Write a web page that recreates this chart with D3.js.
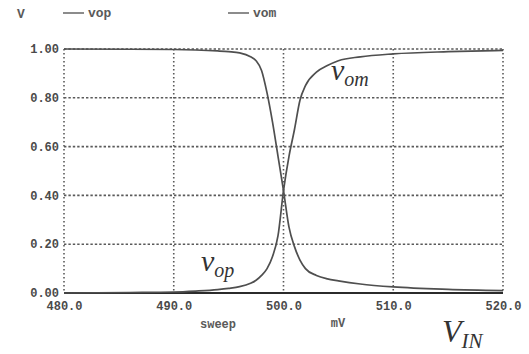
<!DOCTYPE html>
<html>
<head>
<meta charset="utf-8">
<script src="https://cdn.jsdelivr.net/npm/d3@7"></script>
<style>
  body { margin: 0; background: #fff; }
  svg { display: block; }
</style>
</head>
<body>
<svg id="chart" width="529" height="354"></svg>
<script>
// DC sweep of the input voltage (mV) and the two differential outputs (V)
const sweepMV = [480, 486, 490, 492, 494, 495, 496, 497, 497.5, 498, 498.5, 499, 499.5, 500, 500.5, 501, 501.5, 502, 503, 504, 505, 507, 510, 515, 520];
const vop =     [0.000, 0.002, 0.004, 0.008, 0.014, 0.019, 0.026, 0.040, 0.052, 0.072, 0.100, 0.150, 0.235, 0.420, 0.560, 0.670, 0.790, 0.850, 0.905, 0.932, 0.952, 0.968, 0.980, 0.989, 0.994];
const vom =     [1.000, 0.999, 0.998, 0.996, 0.992, 0.989, 0.984, 0.968, 0.952, 0.912, 0.820, 0.700, 0.560, 0.420, 0.270, 0.190, 0.135, 0.100, 0.072, 0.058, 0.050, 0.037, 0.025, 0.015, 0.010];
const seriesNames = ["vop", "vom"];
const xTicks = [480, 490, 500, 510, 520];
const yTicks = [0, 0.2, 0.4, 0.6, 0.8, 1.0];

const svg = d3.select("#chart");
const W = 529, H = 354;
svg.append("rect").attr("width", W).attr("height", H).attr("fill", "#fff");

const x = d3.scaleLinear().domain([480, 520]).range([64, 503]);
const y = d3.scaleLinear().domain([0, 1]).range([293, 49]);

const gridColor = "#5a5a5a";
const textColor = "#4a4a4a";
const mono = "'Liberation Mono', 'DejaVu Sans Mono', monospace";

// dotted grid: verticals at each x tick, horizontals at each y tick above zero
const grid = svg.append("g");
grid.selectAll("line.v").data(xTicks).join("line")
  .attr("x1", d => x(d)).attr("x2", d => x(d))
  .attr("y1", y(1)).attr("y2", y(0))
  .attr("stroke", gridColor).attr("stroke-width", 1.6)
  .attr("stroke-dasharray", "1.6,2.4");
grid.selectAll("line.h").data(yTicks.filter(d => d > 0)).join("line")
  .attr("x1", x(480)).attr("x2", x(520))
  .attr("y1", d => y(d)).attr("y2", d => y(d))
  .attr("stroke", gridColor).attr("stroke-width", 1.6)
  .attr("stroke-dasharray", "2.4,2");

// solid baseline at 0 V
svg.append("line")
  .attr("x1", x(480)).attr("x2", x(520))
  .attr("y1", y(0)).attr("y2", y(0))
  .attr("stroke", "#2b2b2b").attr("stroke-width", 2.2);

// axes text via d3 axes, with the axis lines themselves hidden
const yAxis = svg.append("g").attr("transform", `translate(${x(480) - 2},0)`)
  .call(d3.axisLeft(y).tickValues(yTicks).tickFormat(d3.format(".2f")).tickSize(0).tickPadding(3));
const xAxis = svg.append("g").attr("transform", `translate(0,${y(0)})`)
  .call(d3.axisBottom(x).tickValues(xTicks).tickFormat(d3.format(".1f")).tickSize(0).tickPadding(6));
[yAxis, xAxis].forEach(a => {
  a.select(".domain").remove();
  a.selectAll("text").attr("fill", textColor)
    .style("font-family", mono).style("font-size", "12px").style("font-weight", "bold");
});
yAxis.selectAll("text").attr("dy", "0.3em");
xAxis.selectAll("text").attr("dy", "0.95em");

// curves
const line = d3.line().x(d => x(d[0])).y(d => y(d[1])).curve(d3.curveMonotoneX);
const series = [vop, vom].map(vals => sweepMV.map((v, i) => [v, vals[i]]));
svg.append("g").selectAll("path").data(series).join("path")
  .attr("d", line).attr("fill", "none")
  .attr("stroke", "#4f4f4f").attr("stroke-width", 1.7);

// legend row
const legend = svg.append("g").style("font-family", mono).style("font-size", "13px")
  .style("font-weight", "bold").attr("fill", "#5a5a5a");
legend.append("text").attr("x", 17).attr("y", 18).text("V");
const legendX = [63, 228];
seriesNames.forEach((name, i) => {
  legend.append("line")
    .attr("x1", legendX[i]).attr("x2", legendX[i] + 21)
    .attr("y1", 13).attr("y2", 13)
    .attr("stroke", "#666").attr("stroke-width", 1.5);
  legend.append("text").attr("x", legendX[i] + 25).attr("y", 17).text(name);
});

// x-axis caption
svg.append("text").attr("x", 218).attr("y", 328).attr("text-anchor", "middle")
  .attr("fill", "#5a5a5a").style("font-family", mono).style("font-size", "12px")
  .style("font-weight", "bold").text("sweep");
svg.append("text").attr("x", 338).attr("y", 327).attr("text-anchor", "middle")
  .attr("fill", "#5a5a5a").style("font-family", mono).style("font-size", "12px")
  .style("font-weight", "bold").text("mV");

// italic serif annotations
const serif = "'Liberation Serif', 'DejaVu Serif', serif";
function label(xp, yp, main, sub, mainSize, subSize, subDy) {
  const t = svg.append("text").attr("x", xp).attr("y", yp)
    .attr("fill", "#333").style("font-family", serif).style("font-style", "italic");
  t.append("tspan").style("font-size", mainSize + "px").text(main);
  t.append("tspan").style("font-size", subSize + "px").attr("dy", subDy).text(sub);
}
label(331, 80, "v", "om", 30, 20, 6);
label(201, 271, "v", "op", 30, 20, 6);
label(442, 342, "V", "IN", 32, 21, 6);
</script>
</body>
</html>
